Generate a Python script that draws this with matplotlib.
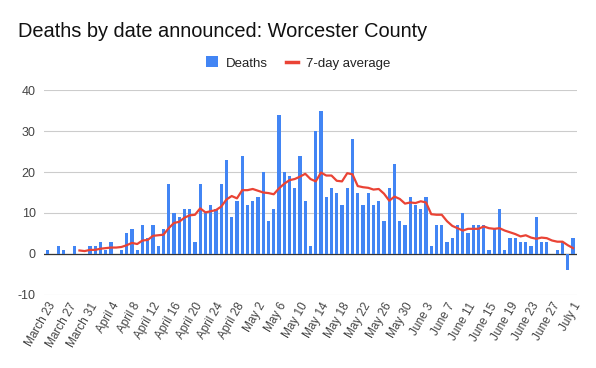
import sys
import matplotlib
matplotlib.use("Agg")
import matplotlib.pyplot as plt
import numpy as np
from matplotlib.lines import Line2D
from matplotlib.patches import Patch

TITLE = "Deaths by date announced: Worcester County"

# one value per day, March 23 .. July 1
deaths = [
    1, 0, 2, 1, 0, 2, 0, 0, 2, 2,
    3, 1, 3, 0, 1, 5, 6, 1, 7, 4,
    7, 2, 6, 17, 10, 9, 11, 11, 3, 17,
    10, 12, 11, 17, 23, 9, 13, 24, 12, 13,
    14, 20, 8, 11, 34, 20, 19, 16, 24, 13,
    2, 30, 35, 14, 16, 15, 12, 16, 28, 15,
    12, 15, 12, 13, 8, 16, 22, 8, 7, 14,
    12, 11, 14, 2, 7, 7, 3, 4, 7, 10,
    5, 7, 7, 7, 1, 6, 11, 1, 4, 4,
    3, 3, 2, 9, 3, 3, 0, 1, 3, -4,
    4,
]

# 7-day average as drawn (starts on the 7th day)
seven_day_avg = [
    np.nan, np.nan, np.nan, np.nan, np.nan, np.nan, 0.86, 0.71, 1.00, 1.00,
    1.29, 1.43, 1.57, 1.57, 1.71, 2.14, 2.71, 2.43, 3.29, 3.43,
    4.43, 4.57, 4.71, 6.29, 7.57, 7.86, 8.86, 9.43, 9.57, 11.14,
    10.14, 10.43, 10.71, 11.57, 13.29, 14.14, 13.57, 15.57, 15.57, 15.86,
    15.43, 15.00, 14.86, 14.57, 16.00, 17.14, 18.00, 18.29, 18.86, 19.57,
    18.29, 17.71, 19.86, 19.14, 19.14, 17.86, 17.71, 19.71, 19.43, 16.57,
    16.29, 16.14, 15.71, 15.86, 14.71, 13.00, 14.00, 13.43, 12.29, 12.57,
    12.43, 12.86, 12.57, 9.71, 9.57, 9.57, 8.00, 6.86, 6.29, 5.71,
    6.14, 6.14, 6.14, 6.71, 6.29, 6.14, 6.29, 5.71, 5.29, 4.86,
    4.29, 4.57, 4.00, 3.71, 4.00, 3.86, 3.29, 3.00, 3.00, 2.14,
    1.43,
]

# every 4th day gets a label
tick_labels = [
    "March 23", "March 27", "March 31", "April 4", "April 8", "April 12",
    "April 16", "April 20", "April 24", "April 28", "May 2", "May 6",
    "May 10", "May 14", "May 18", "May 22", "May 26", "May 30",
    "June 3", "June 7", "June 11", "June 15", "June 19", "June 23",
    "June 27", "July 1",
]

y_ticks = [-10, 0, 10, 20, 30, 40]

BLUE = "#4285F4"
RED = "#EA4335"
FONT = ["Liberation Sans", "DejaVu Sans"]


def draw_chart() -> None:
    """
    Draw the bar + moving average chart and save it as out.png.
    """
    plt.rcParams["font.family"] = FONT
    fig = plt.figure(figsize=(5.96, 3.68), dpi=100)
    ax = fig.add_axes([0.0738, 0.1984, 0.8943, 0.557])

    x = np.arange(len(deaths))
    ax.bar(x, deaths, width=0.6, color=BLUE, zorder=3)
    ax.plot(x, seven_day_avg, color=RED, linewidth=1.6, zorder=4)

    ax.set_xlim(-0.75, len(deaths) - 0.25)
    ax.set_ylim(-10, 40)
    ax.set_yticks(y_ticks)
    ax.set_yticklabels([str(v) for v in y_ticks], fontsize=9,
                       color="#444444")
    ax.grid(axis="y", color="#cccccc", linewidth=0.8, zorder=0)
    ax.axhline(0, color="#333333", linewidth=0.9, zorder=2)

    ax.set_xticks(x[::4])
    ax.set_xticklabels(tick_labels, rotation=60, ha="right",
                       rotation_mode="anchor", fontsize=8.5,
                       color="#444444")
    ax.tick_params(axis="both", length=0)
    ax.tick_params(axis="x", pad=4)
    ax.tick_params(axis="y", pad=6)
    for side in ax.spines.values():
        side.set_visible(False)

    fig.text(18 / 596, 1 - 37 / 368, TITLE, fontsize=14.4,
             color="#111111", va="baseline", ha="left")

    handles = [
        Patch(facecolor=BLUE, edgecolor="none"),
        Line2D([0], [0], color=RED, linewidth=2.5),
    ]
    fig.legend(handles, ["Deaths", "7-day average"], loc="center",
               bbox_to_anchor=(0.5, 1 - 63 / 368), ncol=2, frameon=False,
               fontsize=9.5, handlelength=0.9, handleheight=0.9,
               columnspacing=1.4, handletextpad=0.6,
               labelcolor="#222222")

    fig.savefig("out.png", dpi=100)


def main() -> int:
    draw_chart()
    return 0


if __name__ == "__main__":
    sys.exit(main())
